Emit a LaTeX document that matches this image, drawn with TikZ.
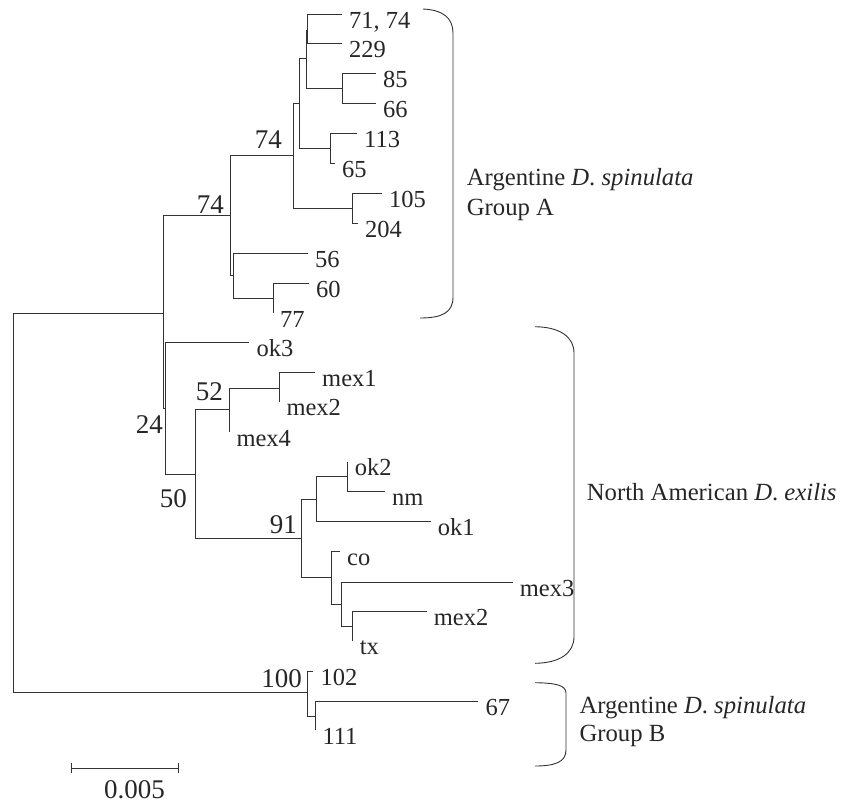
\documentclass[tikz,border=0pt]{standalone}
\usepackage{fontspec}
\setmainfont{Liberation Serif}
\tikzset{
  branch/.style={line width=0.8pt, draw=black!80},
  brace/.style={line width=0.9pt, draw=black!80},
  tiplab/.style={anchor=base west, inner sep=0pt, text=black!85, font=\fontsize{24.5}{29}\selectfont},
  boot/.style={anchor=base east, inner sep=0pt, text=black!85, font=\fontsize{27}{32}\selectfont},
  grouplab/.style={anchor=base west, inner sep=0pt, text=black!85, font=\fontsize{24.7}{30}\selectfont},
}
\begin{document}
\begin{tikzpicture}[x=1pt, y=-1pt]
\useasboundingbox (0,0) rectangle (842,803);
% internal nodes of the tree
\coordinate (root) at (13,500);
\coordinate (nX) at (163,313);
\coordinate (n74o) at (230.5,215.7);
\coordinate (n74i) at (293,155);
\coordinate (nC1) at (299,103);
\coordinate (nC2) at (306,58);
\coordinate (nD) at (307.5,30);
\coordinate (n85) at (342,88);
\coordinate (n113) at (330,148);
\coordinate (n105) at (352,208);
\coordinate (n56) at (233,275);
\coordinate (n60) at (273,298);
\coordinate (nY) at (165.7,408);
\coordinate (n50) at (195.5,474.5);
\coordinate (n52) at (229.3,409);
\coordinate (nmex) at (279.3,388);
\coordinate (n91) at (301.7,538);
\coordinate (nU) at (316,499.3);
\coordinate (nok2) at (347.7,476.7);
\coordinate (nL) at (331.7,577.3);
\coordinate (nM) at (341.7,604);
\coordinate (nN) at (352.7,626.7);
\coordinate (nB) at (307.3,692.7);
\coordinate (nE) at (315.3,716);
% tips and their labels
\foreach \n/\x/\y/\t in {t7174/342/14/{71, 74}, t229/342/43/229, t85/376/73/85, t66/376/103/66,
    t113/357/133/113, t65/335/163/65, t105/382/193/105, t204/358/223/204,
    t56/308/253/56, t60/309/283/60, t77/273/313/77,
    tok3/249.3/342.5/ok3, tmexa/315/372.3/mex1, tmexb/279.3/401.7/mex2, tmexd/229.3/432.3/mex4,
    tok2/347.7/461.7/ok2, tnm/385/491.7/nm, tok1/430.7/521.7/ok1, tco/340/551.7/co,
    tmexc/512.7/582.3/mex3, tmexe/426.7/611.7/mex2, ttx/352.7/640.7/tx,
    t102/313.3/671/102, t67/478.3/701/67, t111/315.3/730/111}{
  \coordinate (\n) at (\x,\y);
  \node[tiplab] (l\n) at (\x+7,\y+14) {\t};
}
% branches
\foreach \p/\c in {root/nX, root/nB, nX/n74o, nX/nY, n74o/n74i, n74o/n56,
    n74i/nC1, n74i/n105, nC1/nC2, nC1/n113, nC2/nD, nC2/n85,
    nD/t7174, nD/t229, n85/t85, n85/t66, n113/t113, n113/t65, n105/t105, n105/t204,
    n56/t56, n56/n60, n60/t60, n60/t77,
    nY/tok3, nY/n50, n50/n52, n50/n91, n52/nmex, n52/tmexd, nmex/tmexa, nmex/tmexb,
    n91/nU, n91/nL, nU/nok2, nU/tok1, nok2/tok2, nok2/tnm,
    nL/tco, nL/nM, nM/tmexc, nM/nN, nN/tmexe, nN/ttx,
    nB/t102, nB/nE, nE/t67, nE/t111}
  \draw[branch] (\p) |- (\c);
% bootstrap values
\node[boot] (b74i) at (282,148) {74};
\node[boot] (b74o) at (224,213) {74};
\node[boot] (b24) at (163,433) {24};
\node[boot] (b50) at (187,507) {50};
\node[boot] (b52) at (223,400) {52};
\node[boot] (b91) at (297,533) {91};
\node[boot] (b100) at (302,687) {100};
% brackets and group names
\draw[brace] (423,9) .. controls (443,10) and (453,18) .. (453,33) -- (453,297)
  .. controls (453,312) and (443,318) .. (420,318);
\draw[brace] (535,326.7) .. controls (560,327) and (574,337) .. (574,353) -- (574,636.7)
  .. controls (574,653) and (560,663) .. (535,663.3);
\draw[brace] (535,682.7) .. controls (555,683) and (566,685) .. (566,693) -- (566,750)
  .. controls (566,762) and (555,766) .. (535,766);
\node[grouplab] (gA1) at (466.7,185) {Argentine \textit{D}. \textit{spinulata}};
\node[grouplab] (gA2) at (466.7,215) {Group A};
\node[grouplab] (gN) at (586.7,500) {North American \textit{D}. \textit{exilis}};
\node[grouplab] (gB1) at (579.3,713.3) {Argentine \textit{D}. \textit{spinulata}};
\node[grouplab] (gB2) at (579.3,741.7) {Group B};
% scale bar
\coordinate (sL) at (71,768.3);
\coordinate (sR) at (178.3,768.3);
\draw[branch] (sL) -- (sR);
\draw[branch] ([yshift=-5pt]sL) -- ([yshift=5pt]sL);
\draw[branch] ([yshift=-5pt]sR) -- ([yshift=5pt]sR);
\node[boot, anchor=base] (scl) at (134.5,798) {0.005};
\end{tikzpicture}
\end{document}
